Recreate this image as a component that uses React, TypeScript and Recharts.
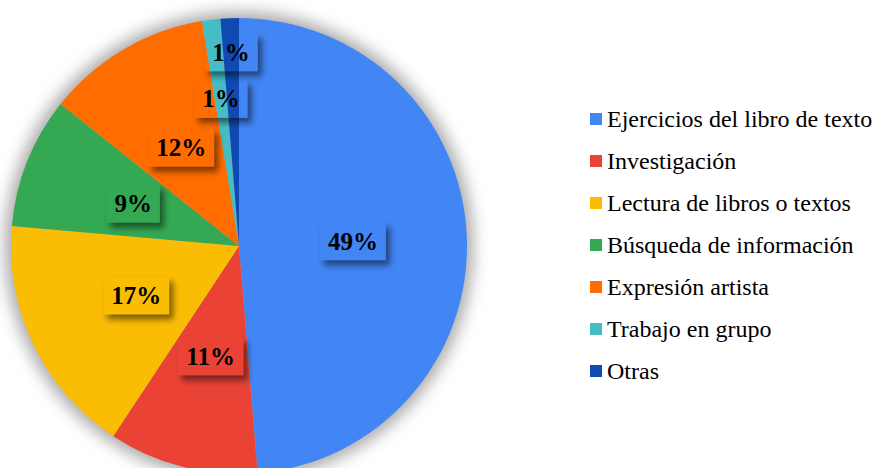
import { PieChart, Pie, Cell, Legend } from 'recharts';

const categories = [
  'Ejercicios del libro de texto',
  'Investigación',
  'Lectura de libros o textos',
  'Búsqueda de información',
  'Expresión artista',
  'Trabajo en grupo',
  'Otras',
];
const shares = [48.7, 10.6, 17.1, 9.3, 11.7, 1.3, 1.3];
const colors = ['#4285F4', '#EA4335', '#FBBC04', '#34A853', '#FF6D01', '#46BDC6', '#0F4AB3'];

// how far out each label box sits (fraction of radius); the thin slices are staggered
const labelRadius = [0.5, 0.5, 0.5, 0.5, 0.5, 0.65, 0.85];

const data = categories.map((name, i) => ({ name, value: shares[i] }));
const FONT = "'Liberation Serif', 'Times New Roman', serif";
const RAD = Math.PI / 180;

function SliceLabel(props: any) {
  const { cx, cy, midAngle, outerRadius, index, value } = props;
  const r = outerRadius * labelRadius[index];
  const x = cx + r * Math.cos(-midAngle * RAD);
  const y = cy + r * Math.sin(-midAngle * RAD);
  const text = `${Math.round(value)}%`;
  const fs = 25;
  const w = fs * (0.5 * (text.length - 1) + 1) + 16;
  const h = 38;
  return (
    <g>
      {/* box is see-through, only its shadow is drawn */}
      <rect x={x - w / 2} y={y - h / 2} width={w} height={h} fill="#000" filter="url(#boxShadow)" />
      <text
        x={x}
        y={y}
        textAnchor="middle"
        dominantBaseline="central"
        fontFamily={FONT}
        fontWeight="bold"
        fontSize={fs}
        fill="#000"
      >
        {text}
      </text>
    </g>
  );
}

function LegendList() {
  return (
    <div style={{ fontFamily: FONT, fontSize: 24, color: '#000' }}>
      {categories.map((c, i) => (
        <div key={c} style={{ display: 'flex', alignItems: 'center', height: 42, whiteSpace: 'nowrap' }}>
          <span style={{ width: 12, height: 12, background: colors[i], marginRight: 5, display: 'inline-block' }} />
          <span>{c}</span>
        </div>
      ))}
    </div>
  );
}

export default function App() {
  return (
    <div style={{ width: 875, height: 468, background: '#fff', position: 'relative', overflow: 'hidden' }}>
      <style>{`body{margin:0}`}</style>
      <svg width={0} height={0} style={{ position: 'absolute' }}>
        <defs>
          <filter id="boxShadow" x="-30%" y="-30%" width="170%" height="190%">
            <feOffset in="SourceAlpha" dx="4" dy="5" result="off" />
            <feGaussianBlur in="off" stdDeviation="3" result="blur" />
            <feComposite in="blur" in2="SourceAlpha" operator="out" result="outer" />
            <feFlood floodColor="#000" floodOpacity="0.5" result="col" />
            <feComposite in="col" in2="outer" operator="in" />
          </filter>
          <filter id="pieGlow" x="-10%" y="-10%" width="120%" height="120%">
            <feGaussianBlur stdDeviation="8" />
          </filter>
        </defs>
      </svg>
      <PieChart width={875} height={468} margin={{ top: 0, right: 0, bottom: 0, left: 0 }}>
        <Pie
          data={[{ name: 'shadow', value: 1 }]}
          dataKey="value"
          cx={239}
          cy={246}
          outerRadius={234}
          startAngle={90}
          endAngle={-270}
          fill="#a8a8a8"
          stroke="none"
          legendType="none"
          filter="url(#pieGlow)"
          isAnimationActive={false}
        />
        <Pie
          data={data}
          dataKey="value"
          nameKey="name"
          cx={239}
          cy={246}
          outerRadius={228}
          startAngle={90}
          endAngle={-270}
          stroke="none"
          labelLine={false}
          label={SliceLabel}
          isAnimationActive={false}
        >
          {data.map((d, i) => (
            <Cell key={d.name} fill={colors[i]} />
          ))}
        </Pie>
        <Legend
          layout="vertical"
          content={() => <LegendList />}
          wrapperStyle={{ left: 590, top: 98, width: 285 }}
        />
      </PieChart>
    </div>
  );
}
